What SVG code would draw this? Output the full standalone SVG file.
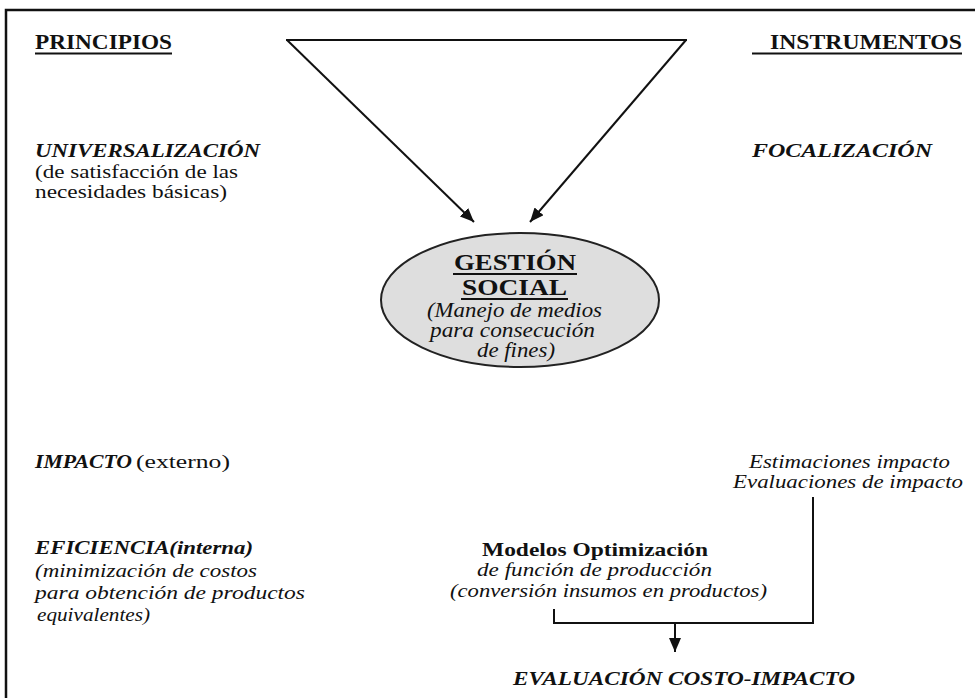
<svg xmlns="http://www.w3.org/2000/svg" width="975" height="698" viewBox="0 0 975 698">
<style>
text{font-family:'Liberation Serif','DejaVu Serif',serif;fill:#111}
.b{font-weight:bold}
.i{font-style:italic}
.bi{font-weight:bold;font-style:italic}
.h{font-size:21px}
.t{font-size:19px}
.u{stroke:#111;stroke-width:2.2}
.c{fill:none;stroke:#111;stroke-width:2}
</style>
<defs>
<marker id="ah" markerUnits="userSpaceOnUse" viewBox="0 0 14 12" refX="14" refY="6" markerWidth="14" markerHeight="12" orient="auto">
<path d="M0,0 L14,6 L0,12 z" fill="#111"/>
</marker>
</defs>
<rect id="frame" x="6" y="10" width="980" height="700" fill="#fff" stroke="#111" stroke-width="2.5"/>

<g id="connectors">
<line class="c" x1="286" y1="40" x2="687" y2="40" stroke-width="2.5"/>
<line class="c" x1="287" y1="40" x2="474" y2="222" marker-end="url(#ah)"/>
<line class="c" x1="686" y1="40" x2="530" y2="222" marker-end="url(#ah)"/>
<path class="c" d="M813,497 V623 H554 V609"/>
<line class="c" x1="675" y1="623" x2="675" y2="652" marker-end="url(#ah)"/>
</g>

<g id="principios">
<text class="b h" x="35" y="49" textLength="137" lengthAdjust="spacingAndGlyphs">PRINCIPIOS</text>
<line class="u" x1="35" y1="53.5" x2="172" y2="53.5"/>
</g>
<g id="instrumentos">
<text class="b h" x="770" y="49" textLength="192" lengthAdjust="spacingAndGlyphs">INSTRUMENTOS</text>
<line class="u" x1="752" y1="53.5" x2="962" y2="53.5"/>
</g>

<g id="universalizacion">
<text class="bi t" x="35" y="157" textLength="225" lengthAdjust="spacingAndGlyphs">UNIVERSALIZACIÓN</text>
<text class="t" x="35" y="178" textLength="203" lengthAdjust="spacingAndGlyphs">(de satisfacción de las</text>
<text class="t" x="35" y="198" textLength="192" lengthAdjust="spacingAndGlyphs">necesidades básicas)</text>
</g>
<g id="focalizacion">
<text class="bi t" x="752" y="157" textLength="180" lengthAdjust="spacingAndGlyphs">FOCALIZACIÓN</text>
</g>

<g id="gestion">
<ellipse cx="520" cy="300" rx="139" ry="67" fill="#dedede" stroke="#222" stroke-width="2"/>
<text class="b" font-size="23" x="454" y="270" textLength="122" lengthAdjust="spacingAndGlyphs">GESTIÓN</text>
<line class="u" x1="453" y1="274" x2="577" y2="274"/>
<text class="b" font-size="23" x="462" y="295" textLength="105" lengthAdjust="spacingAndGlyphs">SOCIAL</text>
<line class="u" x1="461" y1="299" x2="568" y2="299"/>
<text class="i" font-size="20" x="427" y="317" textLength="175" lengthAdjust="spacingAndGlyphs">(Manejo de medios</text>
<text class="i" font-size="20" x="430" y="337" textLength="165" lengthAdjust="spacingAndGlyphs">para consecución</text>
<text class="i" font-size="20" x="477" y="357" textLength="78" lengthAdjust="spacingAndGlyphs">de fines)</text>
</g>

<g id="impacto">
<text class="t" x="35" y="468"><tspan class="bi" textLength="97" lengthAdjust="spacingAndGlyphs">IMPACTO</tspan><tspan x="136" textLength="94" lengthAdjust="spacingAndGlyphs">(externo)</tspan></text>
</g>
<g id="eficiencia">
<text class="bi t" x="35" y="554" textLength="218" lengthAdjust="spacingAndGlyphs">EFICIENCIA(interna)</text>
<text class="i t" x="35" y="577" textLength="222" lengthAdjust="spacingAndGlyphs">(minimización de costos</text>
<text class="i t" x="35" y="599" textLength="270" lengthAdjust="spacingAndGlyphs">para obtención de productos</text>
<text class="i t" x="37" y="621" textLength="113" lengthAdjust="spacingAndGlyphs">equivalentes)</text>
</g>

<g id="estimaciones">
<text class="i t" x="749" y="468" textLength="201" lengthAdjust="spacingAndGlyphs">Estimaciones impacto</text>
<text class="i t" x="733" y="488" textLength="230" lengthAdjust="spacingAndGlyphs">Evaluaciones de impacto</text>
</g>
<g id="modelos">
<text class="b t" x="482" y="556" textLength="226" lengthAdjust="spacingAndGlyphs">Modelos  Optimización</text>
<text class="i t" x="477" y="576" textLength="235" lengthAdjust="spacingAndGlyphs">de función de producción</text>
<text class="i t" x="450" y="597" textLength="317" lengthAdjust="spacingAndGlyphs">(conversión insumos en productos)</text>
</g>
<g id="evaluacion">
<text class="bi t" x="513" y="685" textLength="342" lengthAdjust="spacingAndGlyphs">EVALUACIÓN COSTO-IMPACTO</text>
</g>
</svg>
